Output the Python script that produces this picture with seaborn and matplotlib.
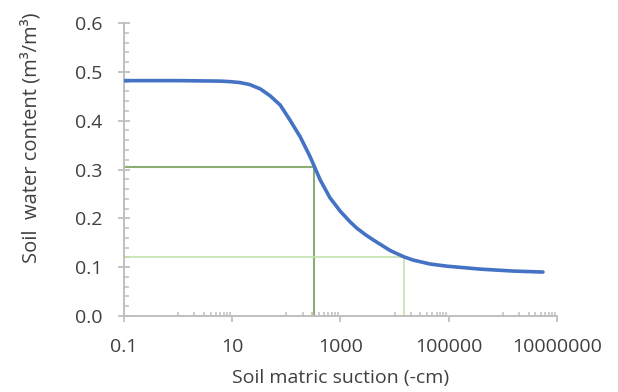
import pandas as pd
import matplotlib
matplotlib.use("Agg")
import matplotlib.pyplot as plt
import matplotlib.ticker as mticker
import seaborn as sns

# retention curve
suction = [0.1, 1, 2.5, 6, 9, 14, 21, 33, 50, 77, 117, 180, 275, 330, 420, 640,
           1000, 1500, 2000, 2850, 4000, 8300, 15000, 22000, 45000, 93000,
           380000, 1550000, 5500000]
theta = [0.482, 0.482, 0.4815, 0.481, 0.480, 0.478, 0.474, 0.465, 0.451, 0.432,
         0.401, 0.367, 0.326, 0.306, 0.279, 0.242, 0.214, 0.193, 0.180, 0.167,
         0.156, 0.134, 0.121, 0.1145, 0.1065, 0.102, 0.096, 0.092, 0.090]

# field capacity and wilting point guides
fc_suction, fc_theta = 330, 0.306
wp_suction, wp_theta = 15000, 0.121

x_ticks = [0.1, 10, 1000, 100000, 10000000]
x_labels = ["0.1", "10", "1000", "100000", "10000000"]
y_ticks = [0.0, 0.1, 0.2, 0.3, 0.4, 0.5, 0.6]

df = pd.DataFrame({"suction": suction, "theta": theta})

sns.set_style("white")
plt.rcParams["font.family"] = ["Open Sans", "DejaVu Sans"]

fig = plt.figure(figsize=(6.18, 3.92), dpi=100)
ax = fig.add_axes([0.2006, 0.1939, 0.7007, 0.7474])

ax.plot([0.1, fc_suction], [fc_theta, fc_theta], color="#8cad74", lw=1.5, zorder=1)
ax.plot([fc_suction, fc_suction], [0, fc_theta], color="#8cad74", lw=1.5, zorder=1)
ax.plot([0.1, wp_suction], [wp_theta, wp_theta], color="#bfe0a6", lw=1.1, zorder=1)
ax.plot([wp_suction, wp_suction], [0, wp_theta], color="#bfe0a6", lw=1.1, zorder=1)

sns.lineplot(data=df, x="suction", y="theta", ax=ax, color="#4472C4",
             linewidth=2.6, zorder=3)

ax.set_xscale("log")
ax.set_xlim(0.1, 10000000)
ax.set_ylim(0, 0.6)

ax.xaxis.set_major_locator(mticker.FixedLocator(x_ticks))
ax.xaxis.set_major_formatter(mticker.FixedFormatter(x_labels))
minor_x = [j * 10.0 ** e for e in (0, 2, 4, 6) for j in range(1, 10)]
ax.xaxis.set_minor_locator(mticker.FixedLocator(minor_x))
ax.xaxis.set_minor_formatter(mticker.NullFormatter())

ax.set_yticks(y_ticks)
ax.yaxis.set_major_formatter(mticker.FormatStrFormatter("%.1f"))
ax.yaxis.set_minor_locator(mticker.MultipleLocator(0.02))

grey = "#bfbfbf"
txt = "#404040"
for side in ["top", "right"]:
    ax.spines[side].set_visible(False)
for side in ["left", "bottom"]:
    ax.spines[side].set_color(grey)
    ax.spines[side].set_linewidth(1.4)

ax.tick_params(which="both", bottom=True, left=True, top=False, right=False)
ax.tick_params(axis="x", which="major", direction="out", length=4.5, width=1.3,
               color=grey, labelsize=14, labelcolor=txt, pad=11.5)
ax.tick_params(axis="x", which="minor", direction="in", length=3, width=1.1,
               color=grey)
ax.tick_params(axis="y", which="major", direction="inout", length=8.6, width=1.3,
               color=grey, labelsize=14, labelcolor=txt, pad=11)
ax.tick_params(axis="y", which="minor", direction="in", length=3.6, width=1.1,
               color=grey)

ax.set_xlabel("Soil matric suction (-cm)", fontsize=14, color=txt, labelpad=9)
ax.set_ylabel("Soil  water content (m³/m³)", fontsize=14.5, color=txt)
ax.yaxis.set_label_coords(-0.19, 0.61)

fig.savefig("out.png", dpi=100)
